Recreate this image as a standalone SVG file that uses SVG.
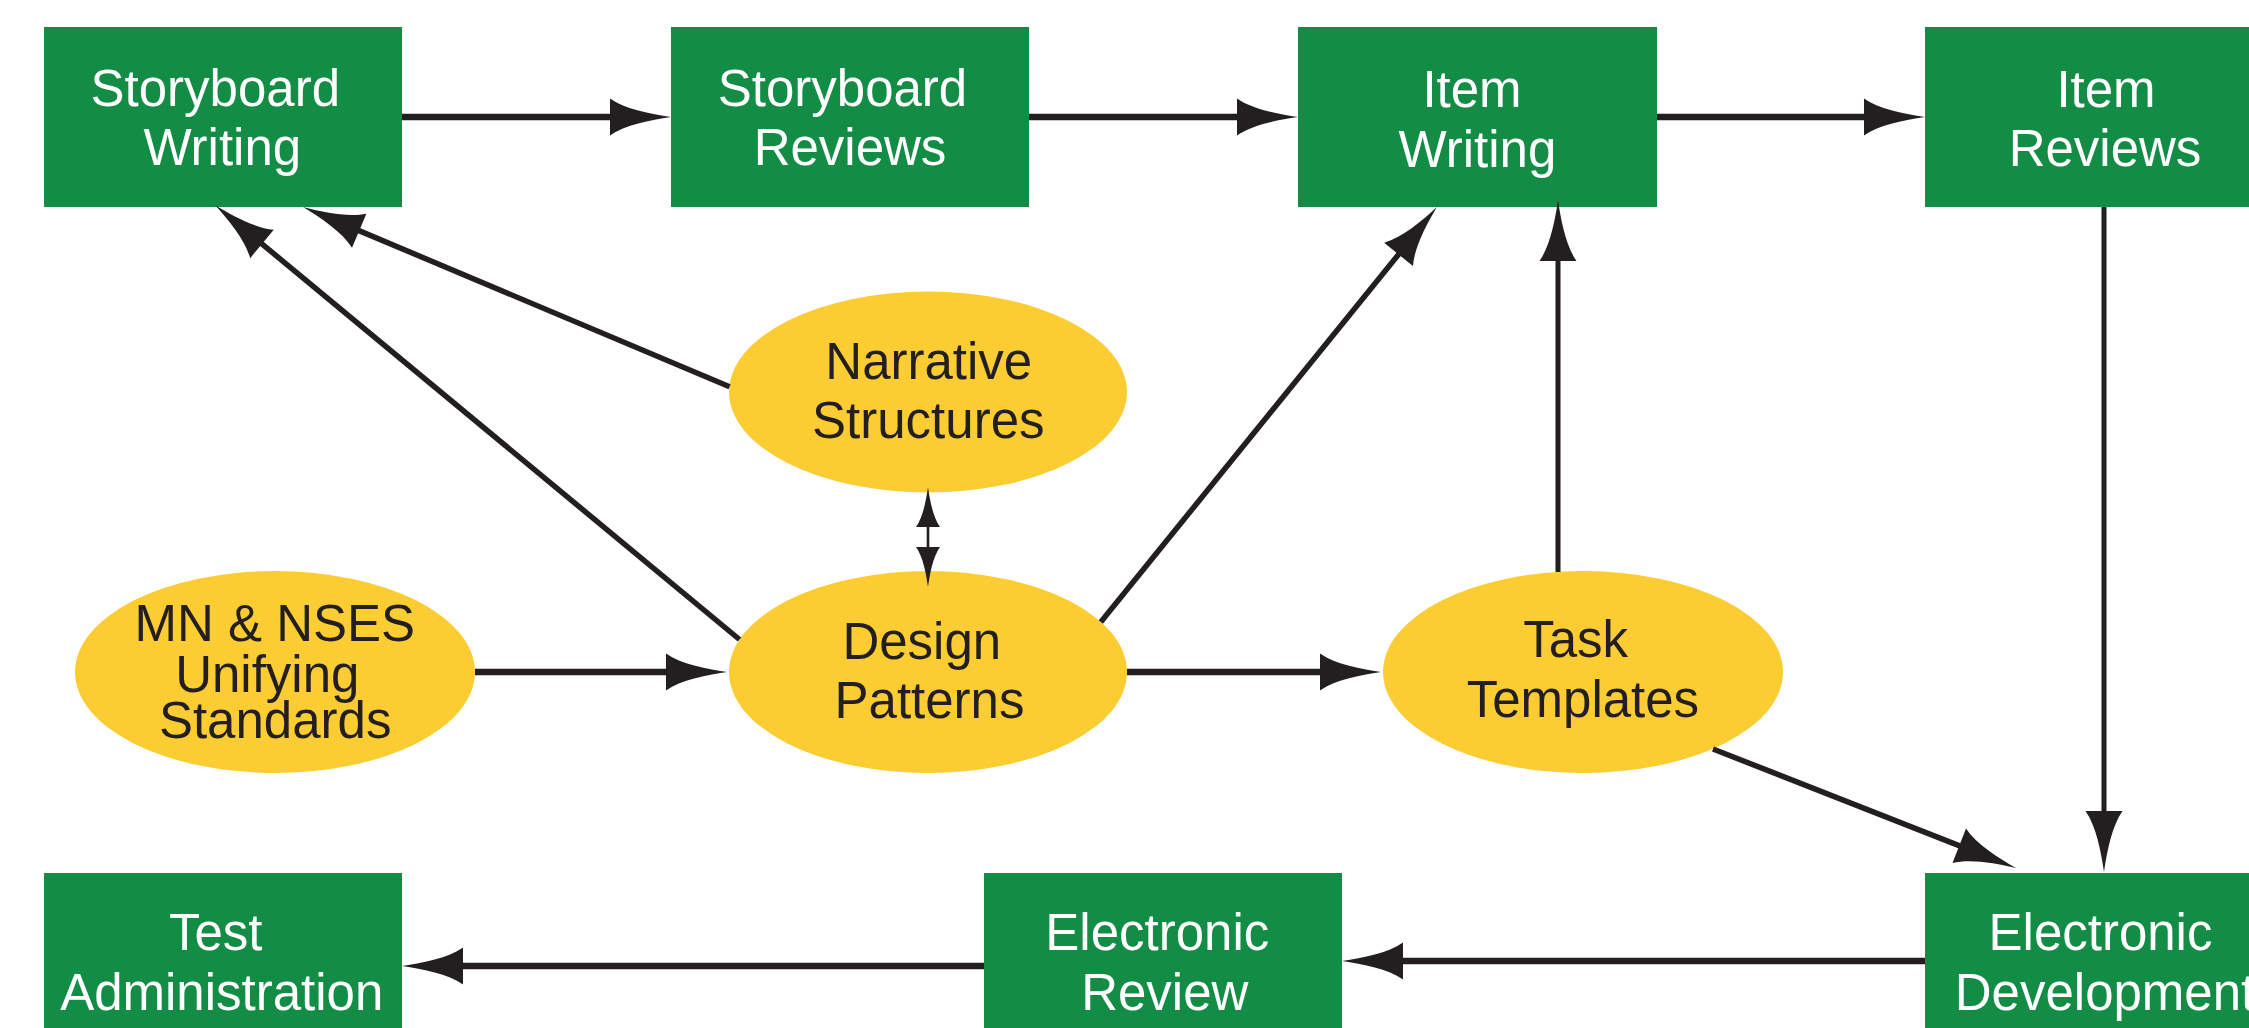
<svg xmlns="http://www.w3.org/2000/svg" width="2249" height="1028" viewBox="0 0 2249 1028">
  <style>
    .box { fill: #138d45; }
    .oval { fill: #fbcd33; }
    .lbl { font-family: "Liberation Sans", Arial, Helvetica, sans-serif; font-size: 51px; text-anchor: middle; }
    .box-t { fill: #ffffff; }
    .oval-t { fill: #231f20; }
    .wire { fill: none; stroke: #231f20; stroke-linecap: butt; }
    .thick { stroke-width: 6.5; }
    .mid { stroke-width: 5.5; }
    .thin { stroke-width: 5; }
    .hair { stroke-width: 2.6; }
  </style>
  <defs>
    <!-- swept arrowhead: base at x=0, tip at x=61 -->
    <marker id="head" markerUnits="userSpaceOnUse" markerWidth="70" markerHeight="40" viewBox="0 -20 70 40" refX="8" refY="0" orient="auto" overflow="visible">
      <path d="M0,-18.5 C15,-8 40,-3 61,0 C40,3 15,8 0,18.5 Z" fill="#231f20"/>
    </marker>
    <!-- small arrowhead for the two-way link -->
    <marker id="tiny" markerUnits="userSpaceOnUse" markerWidth="45" markerHeight="26" viewBox="0 -13 45 26" refX="5" refY="0" orient="auto-start-reverse" overflow="visible">
      <path d="M0,-12 C10,-5 26,-2 40,0 C26,2 10,5 0,12 Z" fill="#231f20"/>
    </marker>
  </defs>

  <rect width="2249" height="1028" fill="#ffffff"/>

  <!-- process steps -->
  <g id="storyboard-writing">
    <rect class="box" x="44" y="27" width="358" height="180"/>
    <text class="lbl box-t"><tspan x="215.3" y="105.5">Storyboard</tspan><tspan x="222.3" y="165.3">Writing</tspan></text>
  </g>
  <g id="storyboard-reviews">
    <rect class="box" x="671" y="27" width="358" height="180"/>
    <text class="lbl box-t"><tspan x="842.5" y="105.5">Storyboard</tspan><tspan x="850" y="165.3">Reviews</tspan></text>
  </g>
  <g id="item-writing">
    <rect class="box" x="1298" y="27" width="359" height="180"/>
    <text class="lbl box-t"><tspan x="1472" y="107">Item</tspan><tspan x="1477.4" y="167">Writing</tspan></text>
  </g>
  <g id="item-reviews">
    <rect class="box" x="1925" y="27" width="358" height="180"/>
    <text class="lbl box-t"><tspan x="2106" y="107">Item</tspan><tspan x="2105" y="166.3">Reviews</tspan></text>
  </g>
  <g id="test-administration">
    <rect class="box" x="44" y="873" width="358" height="180"/>
    <text class="lbl box-t"><tspan x="215.7" y="950">Test</tspan><tspan x="221.7" y="1010">Administration</tspan></text>
  </g>
  <g id="electronic-review">
    <rect class="box" x="984" y="873" width="358" height="180"/>
    <text class="lbl box-t"><tspan x="1157.3" y="950">Electronic</tspan><tspan x="1164.8" y="1010">Review</tspan></text>
  </g>
  <g id="electronic-development">
    <rect class="box" x="1925" y="873" width="358" height="180"/>
    <text class="lbl box-t"><tspan x="2100.5" y="950">Electronic</tspan><tspan x="2105" y="1010">Development</tspan></text>
  </g>

  <!-- supporting resources -->
  <g id="narrative-structures">
    <ellipse class="oval" cx="928" cy="392" rx="199" ry="100.5"/>
    <text class="lbl oval-t"><tspan x="928.8" y="379.3">Narrative</tspan><tspan x="928.3" y="438.3">Structures</tspan></text>
  </g>
  <g id="mn-nses-standards">
    <ellipse class="oval" cx="275" cy="672" rx="200" ry="101"/>
    <text class="lbl oval-t"><tspan x="274.8" y="641">MN &amp; NSES</tspan><tspan x="267.3" y="691.7">Unifying</tspan><tspan x="275.2" y="738.3">Standards</tspan></text>
  </g>
  <g id="design-patterns">
    <ellipse class="oval" cx="928" cy="672" rx="199" ry="101"/>
    <text class="lbl oval-t"><tspan x="921.8" y="659">Design</tspan><tspan x="929.5" y="718">Patterns</tspan></text>
  </g>
  <g id="task-templates">
    <ellipse class="oval" cx="1583" cy="672" rx="200" ry="101"/>
    <text class="lbl oval-t"><tspan x="1575.6" y="656.7">Task</tspan><tspan x="1582.9" y="716.7">Templates</tspan></text>
  </g>

  <!-- connectors -->
  <g id="connectors">
    <path class="wire thick" d="M402,117 H618" marker-end="url(#head)"/>
    <path class="wire thick" d="M1029,117 H1245" marker-end="url(#head)"/>
    <path class="wire thick" d="M1657,117 H1872" marker-end="url(#head)"/>
    <path class="wire thin" d="M2104,207 V819" marker-end="url(#head)"/>
    <path class="wire thick" d="M1925,961 H1395" marker-end="url(#head)"/>
    <path class="wire thick" d="M984,966 H455" marker-end="url(#head)"/>
    <path class="wire thick" d="M475,672 H674" marker-end="url(#head)"/>
    <path class="wire thick" d="M1127,672 H1328" marker-end="url(#head)"/>
    <path class="wire thin" d="M1558,572 V253" marker-end="url(#head)"/>
    <path class="wire mid" d="M1100.8,622 L1403.6,248.2" marker-end="url(#head)"/>
    <path class="wire mid" d="M739.5,639.5 L255.8,238.8" marker-end="url(#head)"/>
    <path class="wire mid" d="M729.6,386.7 L351.8,227.6" marker-end="url(#head)"/>
    <path class="wire mid" d="M1713,749 L1966.7,848.6" marker-end="url(#head)"/>
    <path class="wire hair" d="M928,522 V552" marker-start="url(#tiny)" marker-end="url(#tiny)"/>
  </g>
</svg>
